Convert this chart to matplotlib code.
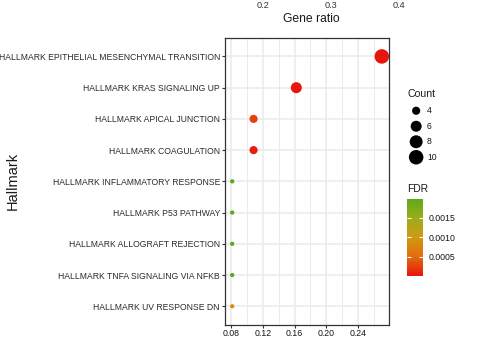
import numpy as np
import matplotlib
matplotlib.use("Agg")
import matplotlib.pyplot as plt
from matplotlib.colors import LinearSegmentedColormap, Normalize

plt.rcParams["font.family"] = ["Liberation Sans", "DejaVu Sans"]

# Enriched hallmark gene sets (top to bottom as displayed)
pathways = [
    "HALLMARK EPITHELIAL MESENCHYMAL TRANSITION",
    "HALLMARK KRAS SIGNALING UP",
    "HALLMARK APICAL JUNCTION",
    "HALLMARK COAGULATION",
    "HALLMARK INFLAMMATORY RESPONSE",
    "HALLMARK P53 PATHWAY",
    "HALLMARK ALLOGRAFT REJECTION",
    "HALLMARK TNFA SIGNALING VIA NFKB",
    "HALLMARK UV RESPONSE DN",
]
counts = [10, 6, 4, 4, 3, 3, 3, 3, 3]
gene_ratio = [10 / 37, 6 / 37, 4 / 37, 4 / 37, 3 / 37, 3 / 37, 3 / 37, 3 / 37, 3 / 37]
fdr = [1e-8, 1.5e-5, 2.5e-4, 6e-5, 0.00199, 0.00199, 0.00199, 0.00199, 0.00088]

x_ticks = [0.08, 0.12, 0.16, 0.20, 0.24]
x_tick_labels = ["0.08", "0.12", "0.16", "0.20", "0.24"]
count_breaks = [4, 6, 8, 10]
fdr_breaks = [0.0005, 0.0010, 0.0015]
fdr_break_labels = ["0.0005", "0.0010", "0.0015"]
upper_ticks = [0.2, 0.3, 0.4]
upper_tick_labels = ["0.2", "0.3", "0.4"]

W, H, DPI = 495, 338, 100
fig = plt.figure(figsize=(W / DPI, H / DPI), dpi=DPI)
fig.patch.set_facecolor("white")


def fx(px):
    return px / W


def fy(px):
    return 1 - px / H


cmin, cmax = min(counts), max(counts)


def marker_area(c):
    # area-proportional size scale, diameter in pixels -> points^2
    rel = np.sqrt((np.asarray(c, dtype=float) - cmin) / (cmax - cmin))
    size_mm = 1 + 5 * rel
    font = size_mm * 2.845 + 0.945
    d_px = 0.718 * font + 1.58
    return (d_px * 72 / DPI) ** 2


cmap = LinearSegmentedColormap.from_list(
    "fdr", ["#E8140E", "#E26C10", "#CF9A12", "#9DAC1A", "#5AAA1E"]
)
norm = Normalize(vmin=min(fdr), vmax=max(fdr))

# Main dot panel
ax = fig.add_axes([fx(224.7), fy(325), fx(389.3) - fx(224.7), fy(37.7) - fy(325)])
ypos = np.arange(len(pathways))[::-1] + 1
ax.set_axisbelow(True)
sc = ax.scatter(gene_ratio, ypos, s=marker_area(counts), c=fdr, cmap=cmap,
                norm=norm, linewidths=0, zorder=3)

ax.set_xticks(x_ticks)
ax.set_xticklabels(x_tick_labels)
minor = [(a + b) / 2 for a, b in zip(x_ticks[:-1], x_ticks[1:])]
minor = minor + [x_ticks[-1] + 0.02]
ax.set_xticks(minor, minor=True)
ax.set_yticks(ypos)
ax.set_yticklabels(pathways)

span = max(gene_ratio) - min(gene_ratio)
ax.set_xlim(min(gene_ratio) - 0.05 * span, max(gene_ratio) + 0.05 * span)
ax.set_ylim(0.4, len(pathways) + 0.6)

ax.grid(True, which="major", color="#EBEBEB", linewidth=1.1)
ax.grid(True, which="minor", axis="x", color="#EBEBEB", linewidth=0.7)
ax.tick_params(axis="x", which="minor", length=0)
ax.tick_params(axis="both", which="major", length=2.2, width=0.8, color="#333333")
ax.tick_params(axis="y", labelsize=6.2, labelcolor="#2b2b2b", pad=1.2)
ax.tick_params(axis="x", labelsize=6.3, labelcolor="#151515", pad=1.0)
for sp in ax.spines.values():
    sp.set_color("#333333")
    sp.set_linewidth(0.9)
ax.set_ylabel("Hallmark", fontsize=10.5, color="#1a1a1a")
ax.yaxis.set_label_coords((20 - 224.7) / 164.6, 0.5)

# Axis strip along the top edge
top = fig.add_axes([fx(228.5), fy(0.4), fx(433.5) - fx(228.5), 0.05])
top.set_xlim(0.15, 0.45)
top.set_xticks(upper_ticks)
top.set_xticklabels(upper_tick_labels)
top.tick_params(axis="x", length=0, labelsize=6.6, labelcolor="#333333", pad=0.5)
top.set_yticks([])
for sp in top.spines.values():
    sp.set_visible(False)
top.patch.set_alpha(0)
top.set_xlabel("Gene ratio", fontsize=8.7, color="#1a1a1a")
top.xaxis.set_label_coords((311 - 228.5) / 205, -12.5 / (0.05 * H))

# Count legend
leg = fig.add_axes([fx(400), fy(165), fx(470) - fx(400), fy(103) - fy(165)])
leg.axis("off")
ly = np.arange(len(count_breaks))[::-1]
leg.scatter(np.zeros(len(count_breaks)), ly, s=marker_area(count_breaks),
            color="black", linewidths=0)
leg.set_xlim(-0.3, 1.0)
leg.set_ylim(-0.5, len(count_breaks) - 0.5)
for yv, c in zip(ly, count_breaks):
    leg.text(0.2, yv, str(c), fontsize=6.2, color="#151515", va="center", ha="left")
fig.text(fx(407.5), fy(94), "Count", fontsize=7.6, color="#1a1a1a", va="center", ha="left")

# FDR colour bar
cax = fig.add_axes([fx(407.3), fy(276), fx(423.3) - fx(407.3), fy(198.7) - fy(276)])
cb = fig.colorbar(sc, cax=cax, ticks=fdr_breaks)
cb.outline.set_visible(False)
cb.ax.set_yticklabels(fdr_break_labels)
cax.tick_params(axis="y", direction="in", color="white", length=3, width=0.8,
                left=True, right=True, labelsize=6.3, labelcolor="#151515", pad=4.0)
fig.text(fx(407), fy(189), "FDR", fontsize=7.4, color="#1a1a1a", va="center", ha="left")

fig.savefig("out.png", dpi=DPI, facecolor="white")
